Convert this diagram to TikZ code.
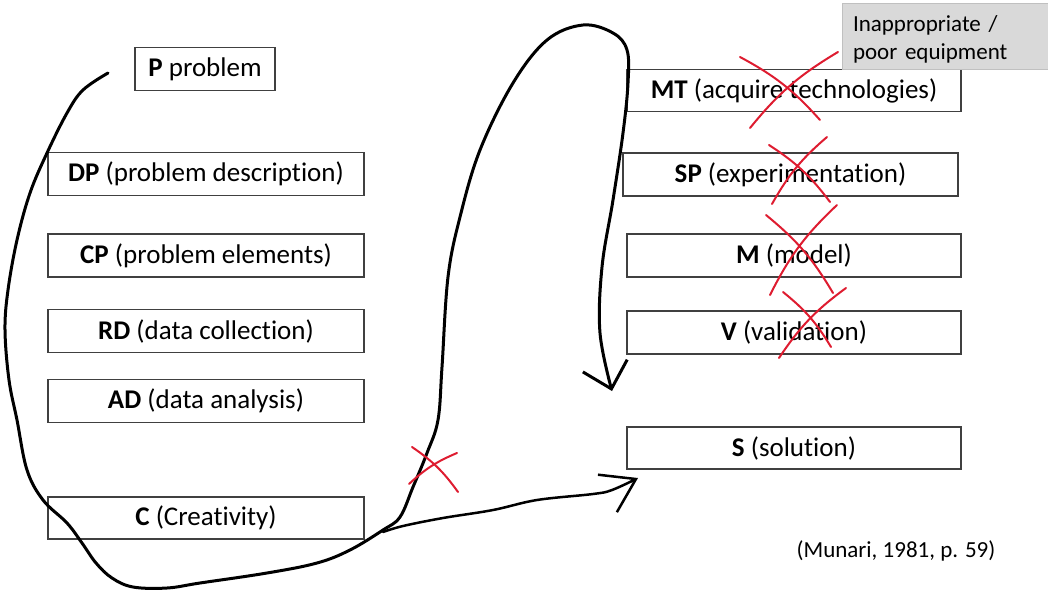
\documentclass[tikz,border=0pt]{standalone}
\usepackage{fontspec}
\setmainfont{Carlito}[Ligatures=NoCommon]
\usetikzlibrary{arrows.meta}
\definecolor{boxCol}{RGB}{64,64,64}
\definecolor{noteCol}{RGB}{217,217,217}
\definecolor{noteLine}{RGB}{192,192,192}
\definecolor{crossCol}{RGB}{222,28,48}
\tikzset{
  stage/.style={draw=boxCol,line width=1.3pt,minimum height=43pt,inner sep=0pt,
                font=\fontsize{27}{32}\selectfont},
  lstage/.style={stage,minimum width=316pt},
  rstage/.style={stage,minimum width=334pt},
  note/.style={fill=noteCol,draw=noteLine,line width=1pt,minimum width=206pt,
               minimum height=66pt,text width=184pt,align=left,inner sep=0pt,
               font=\fontsize{23}{28}\selectfont},
  cite/.style={font=\fontsize{23}{28}\selectfont},
  ink/.style={line width=3pt,line cap=round,line join=round},
  loopTip/.style={-{Straight Barb[length=24pt,width=46pt]}},
  forkTip/.style={-{Straight Barb[length=32pt,width=42pt]}},
  cross/.style={draw=crossCol,line width=2pt,line cap=round},
}
\begin{document}
\begin{tikzpicture}[x=1pt,y=-1pt]
  \useasboundingbox (0,0) rectangle (1048,592);
  \node[stage,minimum width=140pt] (P) at (205,69) {\textbf{P} problem};
  \node[lstage] (DP) at (206,174) {\textbf{DP} (problem description)};
  \node[lstage] (CP) at (206,255.5) {\textbf{CP} (problem elements)};
  \node[lstage] (RD) at (206,331) {\textbf{RD} (data collection)};
  \node[lstage] (AD) at (206,401) {\textbf{AD} (data analysis)};
  \node[lstage,minimum height=42pt] (C) at (206,518) {\textbf{C} (Creativity)};
  \node[rstage,minimum height=42pt] (MT) at (794,90.5) {\textbf{MT} (acquire technologies)};
  \node[rstage,minimum width=335pt] (SP) at (790.5,174.5) {\textbf{SP} (experimentation)};
  \node[rstage] (M) at (794,255.5) {\textbf{M} (model)};
  \node[rstage] (V) at (794,332.5) {\textbf{V} (validation)};
  \node[rstage,minimum height=42pt] (S) at (794,448) {\textbf{S} (solution)};
  \node[note] (equip) at (945,36) {\rule{0pt}{23pt}Inappropriate /\\poor equipment};
  \node[cite] (ref) at (896,551) {(Munari, 1981, p. 59)};
  \coordinate (loopA) at (108,73);
  \coordinate (loopB) at (612,391);
  \coordinate (fork) at (383,532);
  \coordinate (forkB) at (638,478);
  \draw[ink,loopTip] plot[smooth,tension=0.6] coordinates {(loopA) (83,90) (67,113)
    (47,153) (30,193) (17,240) (8,290) (5,330) (9,380) (17,420) (27,470) (43,500)
    (67,523) (82,543) (96,563) (112,578) (133,587) (167,588) (200,583) (267,573)
    (317,563) (350,550) (383,530) (400,517) (413,487) (427,453) (438,420) (442,367)
    (448,277) (460,217) (480,150) (513,83) (547,40) (583,25) (613,33) (627,50)
    (628,83) (623,133) (613,200) (602,267) (600,333) (loopB)};
  \draw[ink,line width=2.5pt,forkTip] plot[smooth,tension=0.6] coordinates {(fork)
    (403,526) (443,518) (493,510) (537,500) (593,494) (612,490) (forkB)};
  \foreach \ax/\ay/\bx/\by/\cx/\cy/\dx/\dy in {412/447/458/492/409/484/457/453,
      740/57/820/120/750/128/838/52, 769/145/830/202/772/204/827/137,
      766/215/833/293/770/295/837/205, 783/292/831/347/779/358/846/288}
    \draw[cross] (\ax,\ay) to[bend left=10] (\bx,\by) (\cx,\cy) to[bend left=10] (\dx,\dy);
\end{tikzpicture}
\end{document}
